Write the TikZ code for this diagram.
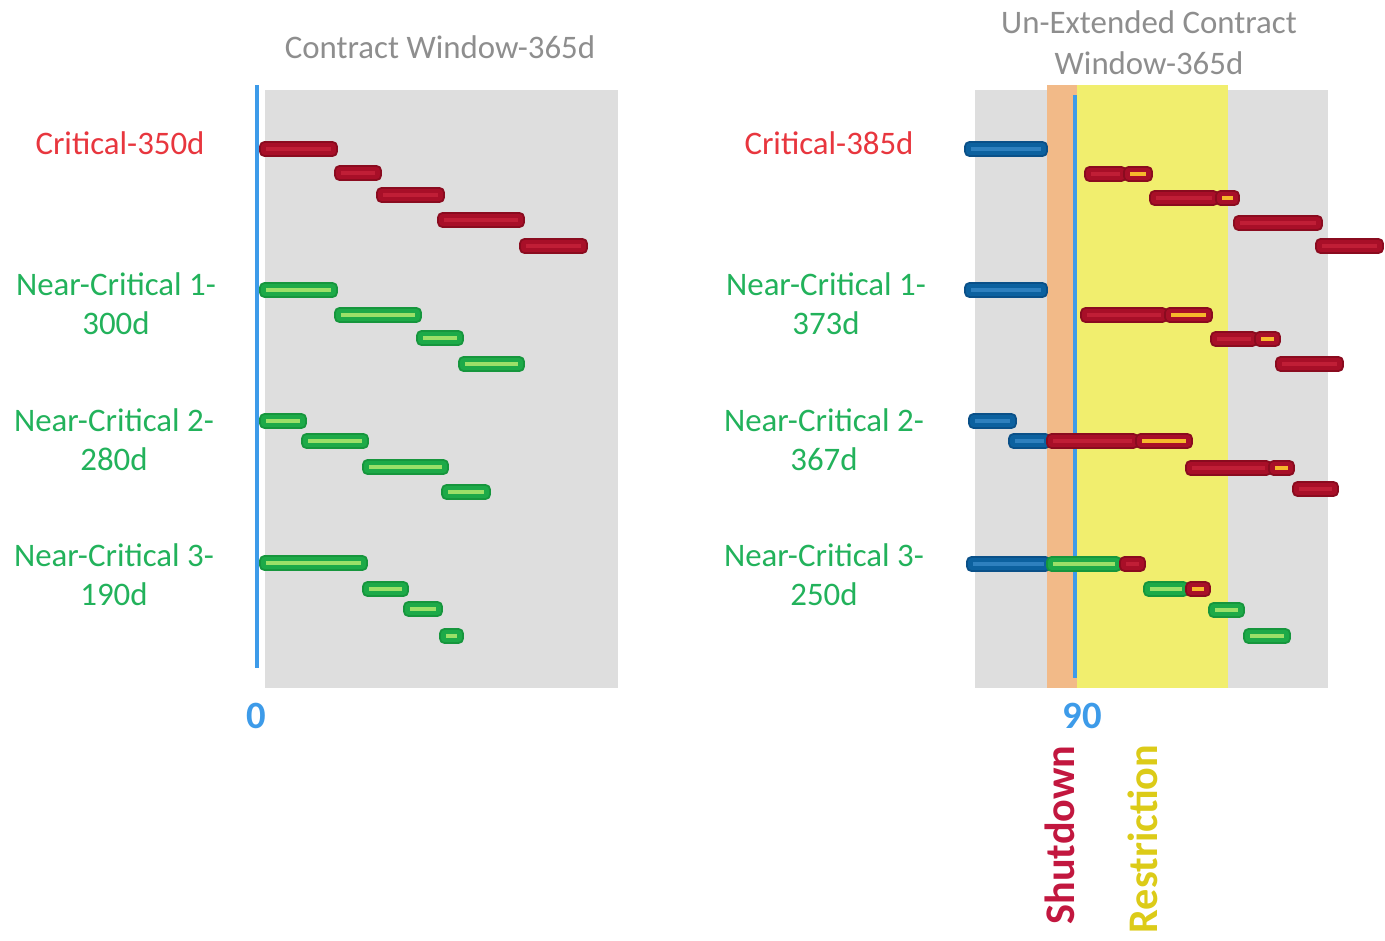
\documentclass[tikz,border=0pt]{standalone}
\usepackage{fontspec}
\setmainfont{Carlito}

\definecolor{panelgray}{HTML}{DEDEDE}
\definecolor{axisblue}{HTML}{3D9BE9}
\definecolor{shutorange}{HTML}{F2BA88}
\definecolor{restyellow}{HTML}{F1EE6E}
\definecolor{critred}{HTML}{E8363E}
\definecolor{neargreen}{HTML}{22B25B}
\definecolor{titlegray}{HTML}{8E8E8E}
\definecolor{shutred}{HTML}{C2173F}
\definecolor{restgold}{HTML}{DCCB18}
\definecolor{barred}{HTML}{A80F28}
\definecolor{barredrim}{HTML}{8A0B1F}
\definecolor{barredline}{HTML}{C01E36}
\definecolor{bargreen}{HTML}{1DAA48}
\definecolor{bargreenrim}{HTML}{16963D}
\definecolor{bargreenline}{HTML}{9BE068}
\definecolor{barblue}{HTML}{0C619F}
\definecolor{barbluerim}{HTML}{0A5088}
\definecolor{barblueline}{HTML}{2E80BE}
\definecolor{barorange}{HTML}{F6B82C}

\tikzset{
  crit box/.style={draw=barredrim, fill=barred, line width=1pt, rounded corners=2.5pt},
  crit line/.style={draw=barredline, line width=2pt},
  critend box/.style={crit box},
  critend line/.style={draw=barorange, line width=2pt},
  near box/.style={draw=bargreenrim, fill=bargreen, line width=1pt, rounded corners=2.5pt},
  near line/.style={draw=bargreenline, line width=2pt},
  pre box/.style={draw=barbluerim, fill=barblue, line width=1pt, rounded corners=2.5pt},
  pre line/.style={draw=barblueline, line width=2pt},
  critlabel/.style={text=critred, font=\fontsize{18.7}{22.1}\selectfont, align=center},
  nearlabel/.style={text=neargreen, font=\fontsize{18.7}{22.1}\selectfont, align=center},
  titlelabel/.style={text=titlegray, font=\fontsize{18.7}{23.2}\selectfont, align=center},
  ticklabel/.style={text=axisblue, font=\fontsize{22}{26}\selectfont\bfseries},
}

% one task bar: style, start x, end x, row y
\newcommand\task[4]{%
  \draw[#1 box] (#2,#4-7) rectangle (#3,#4+7);
  \draw[#1 line] (#2+6,#4) -- (#3-6,#4);
}

\begin{document}
\begin{tikzpicture}[x=0.02cm, y=-0.02cm]
\fill[white] (0,0) rectangle (1385,940);
\useasboundingbox (0,0) rectangle (1385,940);

% left window
\fill[panelgray] (265,90) rectangle (618,688);
\draw[axisblue, line width=2.4pt] (257,85) -- (257,668);
\node[ticklabel] (zero) at (256,716) {0};
\node[titlelabel] (left-title) at (440,47) {Contract Window-365d};

\node[critlabel] (crit-l) at (120,143) {Critical-350d};
\node[nearlabel] (nc1-l) at (116,304) {Near-Critical 1-\\300d};
\node[nearlabel] (nc2-l) at (114,440) {Near-Critical 2-\\280d};
\node[nearlabel] (nc3-l) at (114,575) {Near-Critical 3-\\190d};

\task{crit}{260}{337}{149}
\task{crit}{335}{381}{173}
\task{crit}{377}{444}{195}
\task{crit}{438}{524}{220}
\task{crit}{520}{587}{246}

\task{near}{260}{337}{290}
\task{near}{335}{421}{315}
\task{near}{417}{463}{338}
\task{near}{459}{524}{364}

\task{near}{260}{306}{421}
\task{near}{302}{368}{441}
\task{near}{363}{448}{467}
\task{near}{442}{490}{492}

\task{near}{260}{367}{563}
\task{near}{363}{408}{589}
\task{near}{404}{442}{609}
\task{near}{440}{463}{636}

% right window
\fill[panelgray] (975,90) rectangle (1328,688);
\fill[shutorange] (1047,85) rectangle (1077,688);
\fill[restyellow] (1077,85) rectangle (1228,688);
\draw[axisblue, line width=2pt] (1075,95) -- (1075,678);
\node[ticklabel] (ninety) at (1082,716) {90};
\node[titlelabel] (right-title) at (1149,43) {Un-Extended Contract\\Window-365d};

\node[critlabel] (crit-r) at (829,143) {Critical-385d};
\node[nearlabel] (nc1-r) at (826,304) {Near-Critical 1-\\373d};
\node[nearlabel] (nc2-r) at (824,440) {Near-Critical 2-\\367d};
\node[nearlabel] (nc3-r) at (824,575) {Near-Critical 3-\\250d};

\task{pre}{965}{1047}{149}
\task{crit}{1085}{1126}{174}
\task{critend}{1124}{1152}{174}
\task{crit}{1150}{1218}{198}
\task{critend}{1216}{1239}{198}
\task{crit}{1234}{1322}{223}
\task{crit}{1316}{1383}{246}

\task{pre}{965}{1047}{290}
\task{crit}{1081}{1167}{315}
\task{critend}{1165}{1212}{315}
\task{crit}{1211}{1257}{339}
\task{critend}{1255}{1280}{339}
\task{crit}{1276}{1343}{364}

\task{pre}{969}{1016}{421}
\task{pre}{1009}{1050}{441}
\task{crit}{1047}{1138}{441}
\task{critend}{1136}{1192}{441}
\task{crit}{1186}{1271}{468}
\task{critend}{1269}{1294}{468}
\task{crit}{1293}{1338}{489}

\task{pre}{967}{1050}{564}
\task{near}{1047}{1121}{564}
\task{crit}{1120}{1145}{564}
\task{near}{1144}{1188}{589}
\task{critend}{1186}{1210}{589}
\task{near}{1209}{1244}{610}
\task{near}{1244}{1290}{636}

\node[rotate=90, text=shutred, font=\fontsize{24}{28}\selectfont\bfseries] (shut) at (1060,835) {Shutdown};
\node[rotate=90, text=restgold, font=\fontsize{24}{28}\selectfont\bfseries] (rest) at (1143,839) {Restriction};
\end{tikzpicture}
\end{document}
